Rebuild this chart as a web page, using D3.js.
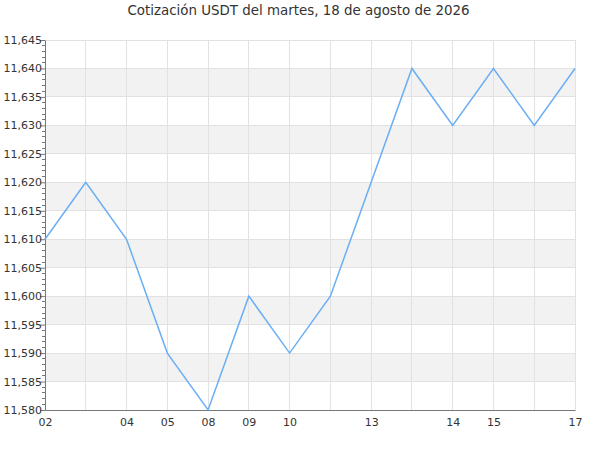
<!DOCTYPE html>
<html><head><meta charset="utf-8">
<script src="https://cdn.jsdelivr.net/npm/d3@7"></script>
<style>body{margin:0;background:#fff}svg{display:block;font-family:"DejaVu Sans",sans-serif}</style>
</head><body>
<svg id="c" width="600" height="450"></svg>
<script>
const title = "Cotización USDT del martes, 18 de agosto de 2026";
const xLabels = ["02","","04","05","08","09","10","","13","","14","15","","17"];
const values = [11.610,11.620,11.610,11.590,11.580,11.600,11.590,11.600,11.620,11.640,11.630,11.640,11.630,11.640];
const yTicks = [11.580,11.585,11.590,11.595,11.600,11.605,11.610,11.615,11.620,11.625,11.630,11.635,11.640,11.645];

const svg = d3.select("#c");
const m = {l:45, r:25, t:40, b:40};
const W = 600, H = 450;
const x = d3.scalePoint().domain(d3.range(values.length)).range([m.l, W - m.r]);
const y = d3.scaleLinear().domain([11.580, 11.645]).range([H - m.b, m.t]);
const fmt = v => d3.format(".3f")(v).replace(".", ",");

// bands (gray between odd tick and next)
const bandIdx = d3.range(1, yTicks.length - 1, 2);
svg.append("g").selectAll("rect").data(bandIdx).join("rect")
  .attr("x", m.l).attr("width", W - m.r - m.l)
  .attr("y", i => y(yTicks[i+1]))
  .attr("height", i => y(yTicks[i]) - y(yTicks[i+1]))
  .attr("fill", "#f2f2f2");

// horizontal grid
svg.append("g").selectAll("line").data(yTicks).join("line")
  .attr("x1", m.l).attr("x2", W - m.r)
  .attr("y1", d => y(d)).attr("y2", d => y(d))
  .attr("stroke", "#e2e2e2").attr("stroke-width", 1).attr("shape-rendering","crispEdges");
// vertical grid
svg.append("g").selectAll("line").data(d3.range(1, values.length)).join("line")
  .attr("x1", d => x(d)).attr("x2", d => x(d))
  .attr("y1", m.t).attr("y2", H - m.b)
  .attr("stroke", "#e2e2e2").attr("stroke-width", 1).attr("shape-rendering","crispEdges");

// y axis
const minor = d3.range(0, 66).map(i => 11.580 + i * 0.001).filter((d,i) => i % 5 !== 0);
const ya = svg.append("g").attr("transform", `translate(${m.l},0)`);
ya.call(d3.axisLeft(y).tickValues(yTicks).tickFormat(fmt).tickSize(5).tickSizeOuter(0));
ya.append("g").selectAll("line").data(minor).join("line")
  .attr("x1", -3).attr("x2", 0).attr("y1", d => y(d)).attr("y2", d => y(d))
  .attr("stroke", "#777").attr("shape-rendering","crispEdges");
ya.selectAll("path").attr("stroke", "#777");
ya.selectAll(".tick line").attr("stroke", "#777");
ya.selectAll("text").attr("fill", "#333").attr("font-size", 11).attr("x", -3).attr("dy","0.32em")
  .attr("font-family", "DejaVu Sans, sans-serif");

// x axis
const xa = svg.append("g").attr("transform", `translate(0,${H - m.b})`);
xa.call(d3.axisBottom(x).tickFormat(i => xLabels[i]).tickSize(0).tickSizeOuter(0).tickPadding(8));
xa.select("path").attr("stroke", "#777");
xa.selectAll("text").attr("fill", "#333").attr("font-size", 11).attr("font-family", "DejaVu Sans, sans-serif");

// line
svg.append("path").datum(values)
  .attr("fill", "none").attr("stroke", "#6aaef5").attr("stroke-width", 1.5)
  .attr("d", d3.line().x((d,i) => x(i)).y(d => y(d)));

svg.append("text").attr("x", 298.5).attr("y", 15).attr("text-anchor", "middle")
  .attr("font-size", 13.4).attr("fill", "#333").text(title);
</script>
</body></html>
